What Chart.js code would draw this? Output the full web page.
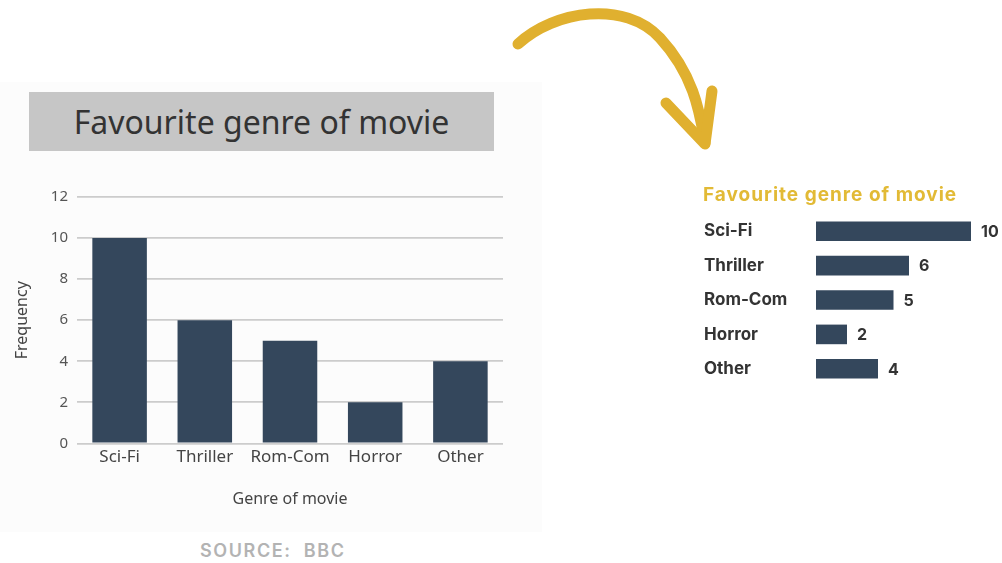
<!DOCTYPE html>
<html>
<head>
<meta charset="utf-8">
<script src="https://cdn.jsdelivr.net/npm/chart.js@4.4.1/dist/chart.umd.min.js"></script>
<style>
  html, body { margin: 0; padding: 0; background: #ffffff; }
  body { width: 1002px; height: 563px; position: relative; overflow: hidden; }
  .panel { position: absolute; left: 0; top: 82px; width: 542px; height: 450px; background: #fcfcfc; }
  .title-box {
    position: absolute; left: 29px; top: 92px; width: 465px; height: 59px;
    background: #c6c6c6; color: #333333;
    font-family: "Noto Sans", sans-serif; font-size: 32px;
    display: flex; align-items: center; justify-content: center;
  }
  #freqChart { position: absolute; left: 0; top: 170px; }
  #barList { position: absolute; left: 695px; top: 214px; }
  .side-title {
    position: absolute; left: 703px; top: 183px;
    font-family: Inter, sans-serif; font-weight: 700; font-size: 19px;
    letter-spacing: 1px; color: #e2ba35; white-space: nowrap;
  }
  .source {
    position: absolute; left: 200px; top: 540px;
    font-family: Inter, sans-serif; font-weight: 600; font-size: 18px;
    letter-spacing: 1.6px; word-spacing: 6px; color: #b3b3b3; white-space: nowrap;
  }
  svg.arrow { position: absolute; left: 0; top: 0; }
</style>
</head>
<body>
<div class="panel"></div>
<div class="title-box">Favourite genre of movie</div>
<canvas id="freqChart" width="530" height="355"></canvas>

<svg class="arrow" width="1002" height="200">
  <g fill="none" stroke="#e0b02f" stroke-width="11" stroke-linecap="round" stroke-linejoin="round">
    <path d="M 518 44 C 555 10, 625 0, 660 38 S 700 115, 705 143"/>
    <path d="M 666 103 L 705 144 L 712 91"/>
  </g>
</svg>

<div class="side-title">Favourite genre of movie</div>
<canvas id="barList" width="307" height="172"></canvas>

<div class="source">SOURCE: BBC</div>

<script>
// Survey results: favourite genre of movie
const genres = ['Sci-Fi', 'Thriller', 'Rom-Com', 'Horror', 'Other'];
const frequencies = [10, 6, 5, 2, 4];

// Frequency axis
const freqMin = 0;
const freqMax = 12;
const freqStep = 2;

const barColor = '#34475c';
const gridColor = '#cccccc';

// Vertical bar chart
new Chart(document.getElementById('freqChart'), {
  type: 'bar',
  data: {
    labels: genres,
    datasets: [{
      data: frequencies,
      backgroundColor: barColor,
      borderWidth: 0,
      categoryPercentage: 1,
      barPercentage: 0.64
    }]
  },
  options: {
    responsive: false,
    animation: false,
    events: [],
    layout: { padding: { left: 12, top: 27, right: 27, bottom: 12 } },
    plugins: { legend: { display: false }, tooltip: { enabled: false } },
    scales: {
      x: {
        grid: { display: false, drawTicks: false },
        border: { display: false },
        ticks: {
          color: '#444',
          padding: 4,
          font: { family: 'Noto Sans', size: 17 }
        },
        title: {
          display: true,
          text: 'Genre of movie',
          color: '#444',
          padding: { top: 18, bottom: 4 },
          font: { family: 'Noto Sans', size: 16 }
        }
      },
      y: {
        min: freqMin,
        max: freqMax,
        grid: { color: gridColor, lineWidth: 1.8, drawTicks: false },
        border: { display: false },
        ticks: {
          stepSize: freqStep,
          color: '#555',
          padding: 9,
          font: { family: 'Noto Sans', size: 15 }
        },
        title: {
          display: true,
          text: 'Frequency',
          color: '#444',
          padding: { top: 1, bottom: 0 },
          font: { family: 'Noto Sans', size: 16 }
        },
        afterFit(scale) { scale.width = 65; }
      }
    }
  }
});

// Value labels at the end of each horizontal bar
const valueLabels = {
  id: 'valueLabels',
  afterDatasetsDraw(chart) {
    const ctx = chart.ctx;
    const meta = chart.getDatasetMeta(0);
    ctx.save();
    ctx.fillStyle = '#333';
    ctx.font = '700 16px Inter, sans-serif';
    ctx.textAlign = 'left';
    ctx.textBaseline = 'middle';
    meta.data.forEach((bar, i) => {
      ctx.fillText(String(chart.data.datasets[0].data[i]), bar.x + 10, bar.y + 1);
    });
    ctx.restore();
  }
};

// Horizontal bar chart
new Chart(document.getElementById('barList'), {
  type: 'bar',
  data: {
    labels: genres,
    datasets: [{
      data: frequencies,
      backgroundColor: barColor,
      borderWidth: 0,
      categoryPercentage: 1,
      barPercentage: 0.57
    }]
  },
  options: {
    indexAxis: 'y',
    responsive: false,
    animation: false,
    events: [],
    layout: { padding: { left: 9, top: 0, right: 0, bottom: 0 } },
    plugins: { legend: { display: false }, tooltip: { enabled: false } },
    scales: {
      x: { display: false, min: 0, max: freqMax },
      y: {
        grid: { display: false },
        border: { display: false },
        ticks: {
          crossAlign: 'far',
          color: '#333',
          font: { family: 'Inter', size: 17, weight: '700' }
        },
        afterFit(scale) {
          scale.width = 112;
          scale.paddingTop = 0;
          scale.paddingBottom = 0;
        }
      }
    }
  },
  plugins: [valueLabels]
});
</script>
</body>
</html>
